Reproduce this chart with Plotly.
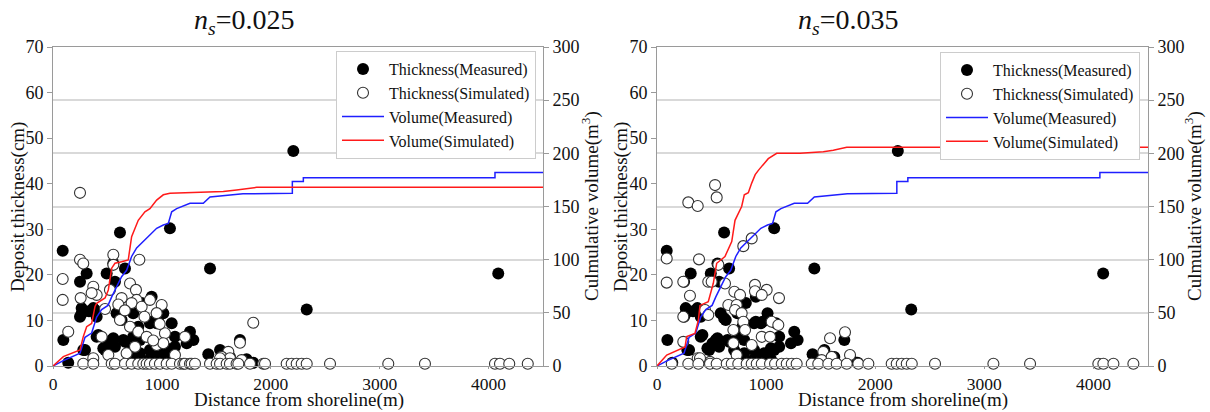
import plotly.graph_objects as go

FONT = "Liberation Serif"

# ---------------- data ----------------
meas_x = [89, 615, 1074, 1442, 309, 248, 493, 554, 661, 569, 263, 248, 370, 401, 906, 737, 1013, 1090,
          584, 630, 95, 294, 140, 401, 508, 539, 478, 661, 783, 737, 799, 890, 952, 707, 799, 890, 982,
          1074, 1120, 1120, 1258, 1228, 1289, 1426, 1534, 1625, 1717, 1778, 1839, 2207, 2330, 4089,
          386, 416, 615, 814, 906, 967, 1044, 753, 921, 554, 569, 462, 278, 646, 880, 1044, 737, 263, 330]
meas_y = [25.3, 29.3, 30.2, 21.4, 20.3, 18.5, 20.3, 22.5, 21.4, 18.5, 12.7, 10.8, 12.7, 10.8, 15.2, 11.6, 11.6, 9.4,
          11.6, 10.1, 5.7, 3.5, 0.7, 6.4, 5.0, 5.7, 3.5, 5.3, 8.6, 6.4, 5.7, 9.4, 9.4, 3.5, 2.8, 3.5, 2.8,
          3.5, 6.4, 4.2, 7.5, 5.0, 5.7, 2.6, 3.5, 2.0, 5.7, 1.5, 0.7, 47.2, 12.4, 20.3,
          12.3, 6.8, 10.5, 13.8, 9.7, 9.7, 3.9, 6.4, 2.4, 6.1, 4.2, 3.9, 3.5, 5.7, 1.3, 1.5, 2.0, 11.5, 12.0]

sim1_x = [248, 248, 278, 554, 554, 793, 89, 89, 140, 370, 401, 355, 254, 523, 630, 707, 762, 768, 722, 814,
          890, 998, 952, 615, 707, 783, 860, 952, 1028, 447, 370, 508, 676, 753, 1013, 1120, 1212, 1839,
          1717, 1610, 1549, 1732, 1625, 1534, 478, 600, 660, 840, 920, 980,
          278, 370, 539, 569, 661, 722, 783, 829, 860, 890, 936, 982, 1044, 1090, 1166, 1197, 1212, 1258,
          1273, 1304, 1442, 1503, 1534, 1595, 1625, 1686, 1702, 1809, 1931, 1947, 2146, 2192, 2238, 2284,
          2330, 2544, 3079, 3416, 4059, 4105, 4190, 4360]
sim1_y = [38.0, 23.3, 22.5, 24.4, 22.2, 23.3, 19.1, 14.5, 7.5, 17.4, 15.6, 16.0, 14.9, 16.7, 14.9, 18.1, 16.7, 14.5,
          13.8, 13.0, 14.5, 13.4, 11.6, 10.1, 8.6, 7.5, 6.4, 4.6, 7.2, 6.4, 1.7, 2.4, 2.8, 4.2, 5.0, 2.4, 6.4,
          9.5, 5.1, 3.1, 2.0, 1.3, 1.7, 1.7, 12.5, 13.5, 12.2, 10.8, 5.6, 9.2,
          0.5, 0.5, 0.5, 0.5, 0.5, 0.5, 0.5, 0.5, 0.5, 0.5, 0.5, 0.5, 0.5, 0.5, 0.5, 0.5, 0.5, 0.5,
          0.5, 0.5, 0.5, 0.5, 0.5, 0.5, 0.5, 0.5, 0.5, 0.5, 0.5, 0.5, 0.5, 0.5, 0.5, 0.5,
          0.5, 0.5, 0.5, 0.5, 0.5, 0.5, 0.5, 0.5]

sim2_x = [532, 547, 287, 373, 89, 385, 89, 241, 868, 791, 562, 470, 302, 623, 709, 761, 898, 898, 1005, 1118,
          960, 654, 730, 715, 776, 791, 440, 470, 241, 1051, 1112, 700, 807, 960, 1036, 700, 868, 1586, 1723,
          1524, 1509, 1601, 1769, 373, 486, 730, 241, 501, 394,
          135, 287, 379, 486, 547, 639, 685, 745, 822, 868, 914, 960, 1036, 1082, 1143, 1189, 1235, 1280,
          1418, 1478, 1570, 1647, 1739, 1845, 1937, 2151, 2197, 2243, 2289, 2335, 2548, 3083, 3419, 4045,
          4091, 4183, 4366]
sim2_y = [39.7, 37.0, 35.9, 35.1, 23.6, 23.4, 18.3, 18.5, 28.0, 26.3, 22.2, 18.5, 15.4, 18.1, 16.3, 15.6, 17.8,
          16.4, 16.7, 14.9, 15.6, 13.4, 13.4, 12.3, 11.6, 9.7, 12.3, 11.2, 10.8, 9.7, 9.0, 7.9, 7.9, 6.4, 6.4,
          5.0, 4.6, 6.1, 7.4, 3.1, 1.3, 2.0, 2.4, 1.7, 0.9, 2.4, 5.3, 18.5, 1.7,
          0.5, 0.5, 0.5, 0.5, 0.5, 0.5, 0.5, 0.5, 0.5, 0.5, 0.5, 0.5, 0.5, 0.5, 0.5, 0.5, 0.5, 0.5,
          0.5, 0.5, 0.5, 0.5, 0.5, 0.5, 0.5, 0.5, 0.5, 0.5, 0.5, 0.5, 0.5, 0.5, 0.5, 0.5,
          0.5, 0.5, 0.5]

volm_x = [0, 95, 248, 294, 355, 386, 401, 447, 505, 539, 584, 630, 676, 722, 768, 829, 890, 952, 1013, 1059,
          1090, 1136, 1258, 1380, 1442, 1561, 1745, 2198, 2198, 2299, 2299, 4059, 4059, 4500]
volm_y = [0, 5, 12, 27, 31, 40, 46, 53, 57, 65, 75, 84, 90, 103, 111, 117, 123, 129.5, 132.6, 134,
          145, 148, 153, 153, 159, 160, 162, 162.4, 173.4, 173.4, 177.1, 177.1, 181.9, 181.9]

vols1_x = [0, 95, 248, 278, 309, 355, 386, 401, 478, 508, 539, 569, 630, 691, 722, 783, 844, 890, 952, 1013,
           1074, 1564, 1686, 1778, 1870, 4500]
vols1_y = [0, 8.8, 15, 27.6, 37, 40, 56, 59, 64, 71.5, 92, 96.6, 98, 99.7, 121.6, 137, 145, 148, 156, 161,
           162.4, 164, 165.6, 167, 168, 168]

vols2_x = [0, 89, 257, 272, 348, 379, 394, 470, 516, 547, 623, 685, 715, 776, 800, 837, 868, 900, 929, 974,
           1020, 1097, 1311, 1524, 1616, 1739, 4500]
vols2_y = [0, 10.3, 18, 27.6, 30.7, 43, 57, 60.5, 77.8, 96.6, 103, 117, 137, 150, 161, 163, 172, 180, 184, 189,
           195, 200, 200, 201.6, 203, 205.7, 205.7]

titles = ["<i>n</i><sub><i>s</i></sub>=0.025", "<i>n</i><sub><i>s</i></sub>=0.035"]
x_title = "Distance from shoreline(m)"
y_title = "Deposit thickness(cm)"
y2_title = "Culmulative volume(m<sup>3</sup>)"
x_ticks = [0, 1000, 2000, 3000, 4000]
y_ticks = [0, 10, 20, 30, 40, 50, 60, 70]
y2_ticks = [0, 50, 100, 150, 200, 250, 300]

# ---------------- figure ----------------
# the page's default body margin is removed by a post script, so the figure fills the window
W, H = 1210, 412


def px(xw):
    return xw / W


def py(yw):
    return (H - yw) / H


fig = go.Figure()

panels = [
    dict(x="x", y="y", y2="y2", leg="legend", sx=sim1_x, sy=sim1_y, vx=vols1_x, vy=vols1_y),
    dict(x="x2", y="y3", y2="y4", leg="legend2", sx=sim2_x, sy=sim2_y, vx=vols2_x, vy=vols2_y),
]

for p in panels:
    fig.add_trace(go.Scatter(x=meas_x, y=meas_y, mode="markers", name="Thickness(Measured)",
                             xaxis=p["x"], yaxis=p["y"], legend=p["leg"], cliponaxis=False,
                             marker=dict(symbol="circle", size=12, color="black", line=dict(width=0))))
    fig.add_trace(go.Scatter(x=p["sx"], y=p["sy"], mode="markers", name="Thickness(Simulated)",
                             xaxis=p["x"], yaxis=p["y"], legend=p["leg"], cliponaxis=False,
                             marker=dict(symbol="circle", size=11, color="white",
                                         line=dict(width=1.1, color="#333333"))))
    fig.add_trace(go.Scatter(x=volm_x, y=volm_y, mode="lines", name="Volume(Measured)",
                             xaxis=p["x"], yaxis=p["y2"], legend=p["leg"],
                             line=dict(color="#1f1fff", width=1.5)))
    fig.add_trace(go.Scatter(x=p["vx"], y=p["vy"], mode="lines", name="Volume(Simulated)",
                             xaxis=p["x"], yaxis=p["y2"], legend=p["leg"],
                             line=dict(color="#ff1a1a", width=1.5)))

ydom = [py(366), py(47)]
axcol = "#9a9a9a"
tickfont = dict(family=FONT, size=18, color="#111")
xtickfont = dict(family=FONT, size=17.5, color="#111")


def xax(domain, anchor):
    return dict(domain=domain, anchor=anchor, range=[0, 4500], tickvals=x_ticks, automargin=False,
                showline=True, linecolor=axcol, linewidth=1, mirror=True,
                ticks="outside", ticklen=2, tickcolor=axcol, showgrid=False, zeroline=False,
                tickfont=xtickfont)


def yax(domain, anchor):
    return dict(domain=domain, anchor=anchor, range=[0, 70], tickvals=y_ticks, automargin=False,
                showline=True, linecolor=axcol, linewidth=1,
                ticks="outside", ticklen=5, tickcolor=axcol, showgrid=False, zeroline=False,
                tickfont=tickfont)


def y2ax(domain, anchor, overlay):
    return dict(domain=domain, anchor=anchor, overlaying=overlay, side="right", range=[0, 300],
                tickvals=y2_ticks, showline=True, linecolor=axcol, linewidth=1, automargin=False,
                ticks="outside", ticklen=5, tickcolor=axcol, showgrid=True, gridcolor="#d9d9d9",
                gridwidth=1.6, zeroline=False, tickfont=tickfont)


legend_common = dict(font=dict(family=FONT, size=16, color="#111"), bgcolor="white",
                     bordercolor="#cccccc", borderwidth=1, xanchor="right", yanchor="top",
                     tracegroupgap=0, itemwidth=42)

fig.update_layout(
    width=W, height=H, autosize=False,
    margin=dict(l=0, r=0, t=0, b=0, pad=0),
    paper_bgcolor="white", plot_bgcolor="white",
    font=dict(family=FONT, color="#111"),
    xaxis=xax([px(53), px(543)], "y"),
    xaxis2=xax([px(657), px(1148)], "y3"),
    yaxis=yax(ydom, "x"),
    yaxis2=y2ax(ydom, "x", "y"),
    yaxis3=yax(ydom, "x2"),
    yaxis4=y2ax(ydom, "x2", "y3"),
    legend=dict(x=px(536), y=py(51), **legend_common),
    legend2=dict(x=px(1140), y=py(52), **legend_common),
    showlegend=True,
)


def label(text, xw, yw, size, angle=0):
    fig.add_annotation(text=text, x=px(xw), y=py(yw), xref="paper", yref="paper",
                       xanchor="center", yanchor="middle", showarrow=False, textangle=angle,
                       font=dict(family=FONT, size=size, color="#111"))


for t, cx in zip(titles, [244, 848]):
    label(t, cx, 22, 28)

for cx in [299, 903]:
    label(x_title, cx, 400, 19)

for cx in [18, 621]:
    label(y_title, cx, 207, 19, -90)

for cx in [590, 1193]:
    label(y2_title, cx, 206, 19, -90)

fig.write_html("out.html", config={"displayModeBar": False},
               post_script="document.body.style.margin='0px';document.body.style.overflow='hidden';")
